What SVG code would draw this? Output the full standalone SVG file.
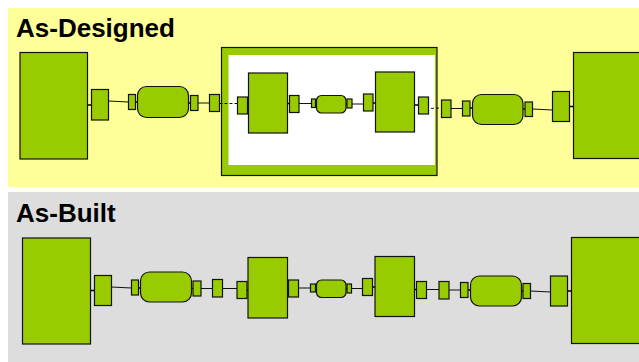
<svg xmlns="http://www.w3.org/2000/svg" width="639" height="362" viewBox="0 0 639 362">
<style>
.n{fill:#99cc00;stroke:#111;stroke-width:1.2}
.c{fill:none;stroke:#111;stroke-width:1}
.s{fill:none;stroke:#000;stroke-width:1.7}
.t{font-family:"Liberation Sans",Arial,sans-serif;font-weight:bold;font-size:26px;fill:#000}
</style>
<rect x="0" y="0" width="639" height="362" fill="#fff"/>
<g id="panel-designed"><rect x="8" y="8" width="631" height="179" fill="#ffff99"/><text class="t" x="16" y="37">As-Designed</text></g>
<g id="panel-built"><rect x="8" y="192" width="631" height="170" fill="#dddddd"/><text class="t" x="16" y="222">As-Built</text></g>
<g id="container"><rect class="n" x="221.500" y="47.500" width="215.500" height="128"/><rect x="228.500" y="55" width="206.500" height="110" fill="#fff"/></g>
<g id="connectors">
<path class="c" d="M108.500 101L128.500 102M198 103H209.500M299 103.500H311.500M352 104H363.500M451 108.500H462.500M532.500 109L552.500 110"/>
<path class="s" d="M87.500 105H91.500M135.500 102H137.500M188.500 103H190.500M247.500 105.500H248.500M287.500 103.500H289.500M315.500 103.500H316.500M346 104H347M373 103H375.500M414.500 105H418.500M470 108H472.500M523 109H525M569.500 106.500H573.500"/>
<path class="c" stroke-dasharray="3 2" d="M219.500 103.500H237.500M426 108.500L441.500 108"/>
<path class="c" d="M111.500 287L131.500 288M201 288.500H212.500M222.500 288.500H237M298.500 288H310.500M351.500 288.500H362.500M426.500 289.500H439M449 290H460.500M530.500 291L550.500 292"/>
<path class="s" d="M90.500 290.500H94.500M138.500 288H140.500M191.500 288.500H193M247 290H248M287.500 288.500H288.500M315.500 288H316.500M346 288.500H347M372.500 287H375M414.500 289.500H416.500M468 290H470.500M521.500 291H523M567.500 291H571.500"/>
</g>
<g id="d1"><rect class="n" x="20" y="52.500" width="67.500" height="106.500"/></g>
<g id="d2"><rect class="n" x="91.500" y="89.500" width="17" height="30.500"/></g>
<g id="d3"><rect class="n" x="128.500" y="94.500" width="7" height="15"/></g>
<g id="d4"><rect class="n" x="137.500" y="86.500" width="51" height="31" rx="9"/></g>
<g id="d5"><rect class="n" x="190.500" y="95.500" width="7.500" height="15"/></g>
<g id="d6"><rect class="n" x="209.500" y="94.500" width="10" height="17"/></g>
<g id="d7"><rect class="n" x="237.500" y="97" width="10" height="17"/></g>
<g id="d8"><rect class="n" x="248.500" y="73" width="39" height="60"/></g>
<g id="d9"><rect class="n" x="289.500" y="95.500" width="9.500" height="17"/></g>
<g id="d10"><rect class="n" x="311.500" y="99" width="4" height="8.500"/></g>
<g id="d11"><rect class="n" x="316.500" y="95.500" width="29.500" height="17.500" rx="5"/></g>
<g id="d12"><rect class="n" x="347" y="99" width="5" height="9"/></g>
<g id="d13"><rect class="n" x="363.500" y="94" width="9.500" height="17"/></g>
<g id="d14"><rect class="n" x="375.500" y="72" width="39" height="60"/></g>
<g id="d15"><rect class="n" x="418.500" y="97" width="10" height="17"/></g>
<g id="d16"><rect class="n" x="441.500" y="100" width="9.500" height="17.500"/></g>
<g id="d17"><rect class="n" x="462.500" y="101" width="7.500" height="15"/></g>
<g id="d18"><rect class="n" x="472.500" y="94.500" width="50.500" height="30" rx="9"/></g>
<g id="d19"><rect class="n" x="525" y="102" width="7.500" height="14.500"/></g>
<g id="d20"><rect class="n" x="552.500" y="91.500" width="17" height="30"/></g>
<g id="d21"><rect class="n" x="573.500" y="52.500" width="68" height="106"/></g>
<g id="b1"><rect class="n" x="22.500" y="238" width="68" height="106"/></g>
<g id="b2"><rect class="n" x="94.500" y="275.500" width="17" height="30"/></g>
<g id="b3"><rect class="n" x="131.500" y="280" width="7" height="15"/></g>
<g id="b4"><rect class="n" x="140.500" y="272" width="51" height="30" rx="9"/></g>
<g id="b5"><rect class="n" x="193" y="281" width="8" height="15"/></g>
<g id="b6"><rect class="n" x="212.500" y="279.500" width="10" height="17.500"/></g>
<g id="b7"><rect class="n" x="237" y="281.500" width="10" height="17"/></g>
<g id="b8"><rect class="n" x="248" y="257.500" width="39.500" height="60.500"/></g>
<g id="b9"><rect class="n" x="288.500" y="280" width="10" height="17"/></g>
<g id="b10"><rect class="n" x="310.500" y="284" width="5" height="8"/></g>
<g id="b11"><rect class="n" x="316.500" y="280" width="29.500" height="17.500" rx="5"/></g>
<g id="b12"><rect class="n" x="347" y="284" width="4.500" height="9"/></g>
<g id="b13"><rect class="n" x="362.500" y="278.500" width="10" height="17"/></g>
<g id="b14"><rect class="n" x="375" y="256.500" width="39.500" height="60"/></g>
<g id="b15"><rect class="n" x="416.500" y="281.500" width="10" height="17"/></g>
<g id="b16"><rect class="n" x="439" y="281.500" width="10" height="17.500"/></g>
<g id="b17"><rect class="n" x="460.500" y="282.500" width="7.500" height="15"/></g>
<g id="b18"><rect class="n" x="470.500" y="276" width="51" height="30" rx="9"/></g>
<g id="b19"><rect class="n" x="523" y="283.500" width="7.500" height="15"/></g>
<g id="b20"><rect class="n" x="550.500" y="276" width="17" height="30"/></g>
<g id="b21"><rect class="n" x="571.500" y="237.500" width="69" height="106"/></g>
</svg>
